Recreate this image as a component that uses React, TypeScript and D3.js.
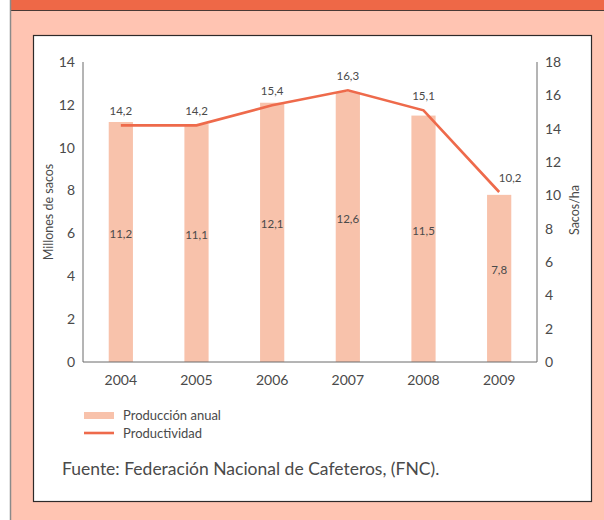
import React from "react";
import * as d3 from "d3";

const years = ["2004", "2005", "2006", "2007", "2008", "2009"];
const produccion = [11.2, 11.1, 12.1, 12.6, 11.5, 7.8];
const productividad = [14.2, 14.2, 15.4, 16.3, 15.1, 10.2];
const leftTicks = [0, 2, 4, 6, 8, 10, 12, 14];
const rightTicks = [0, 2, 4, 6, 8, 10, 12, 14, 16, 18];
const legendLabels = ["Producción anual", "Productividad"];
const sourceText = "Fuente: Federación Nacional de Cafeteros, (FNC).";
const leftTitle = "Millones de sacos";
const rightTitle = "Sacos/ha";

const W = 604;
const H = 520;
const FONT = "Lato, 'Open Sans', sans-serif";
const TEXT = "#4a4a4a";
const BAR = "#F8C2AB";
const LINE = "#EE6A4B";

const fmt = (v: number) => v.toFixed(1).replace(".", ",");

export default function App() {
  const plot = { left: 83, right: 537, top: 62, bottom: 362 };
  const x = d3.scaleBand<string>().domain(years).range([plot.left, plot.right]).paddingInner(0.68).paddingOuter(0.34);
  const yL = d3.scaleLinear().domain([0, 14]).range([plot.bottom, plot.top]);
  const yR = d3.scaleLinear().domain([0, 18]).range([plot.bottom, plot.top]);
  const cx = (d: string) => (x(d) as number) + x.bandwidth() / 2;
  const line = d3
    .line<number>()
    .x((_, i) => cx(years[i]))
    .y((d) => yR(d));

  return (
    <svg width={W} height={H} style={{ position: "absolute", left: 0, top: 0, display: "block" }} fontFamily={FONT}>
      <rect x={0} y={0} width={W} height={H} fill="#ffffff" />
      <rect x={10} y={0} width={W - 10} height={H} fill="#FFC4B2" />
      <rect x={10} y={0} width={W - 10} height={10} fill="#EE6847" />
      <line x1={10} x2={W} y1={10.5} y2={10.5} stroke="#4a3a36" strokeWidth={1} />
      <line x1={10.5} x2={10.5} y1={0} y2={H} stroke="#8a8a8a" strokeWidth={1.5} />
      <rect x={33.5} y={35.5} width={558} height={466} fill="#ffffff" stroke="#2e2a2a" strokeWidth={1.2} />

      {/* bars */}
      {produccion.map((v, i) => (
        <rect key={"b" + i} x={x(years[i])} y={yL(v)} width={x.bandwidth()} height={yL(0) - yL(v)} fill={BAR} />
      ))}
      {/* axes */}
      <line x1={plot.left} x2={plot.left} y1={plot.top} y2={plot.bottom} stroke="#6a6a6a" strokeWidth={1} />
      <line x1={plot.right} x2={plot.right} y1={plot.top} y2={plot.bottom} stroke="#6a6a6a" strokeWidth={1} />
      <line x1={plot.left} x2={plot.right} y1={plot.bottom} y2={plot.bottom} stroke="#6a6a6a" strokeWidth={1} />
      {leftTicks.map((t) => (
        <text key={"l" + t} x={75} y={yL(t)} dy="0.35em" textAnchor="end" fontSize={14} fill={TEXT}>
          {t}
        </text>
      ))}
      {rightTicks.map((t) => (
        <text key={"r" + t} x={545} y={yR(t)} dy="0.35em" textAnchor="start" fontSize={14} fill={TEXT}>
          {t}
        </text>
      ))}
      {years.map((yv) => (
        <text key={"x" + yv} x={cx(yv)} y={380} dy="0.35em" textAnchor="middle" fontSize={14} fill={TEXT}>
          {yv}
        </text>
      ))}
      <text transform={`translate(49,${(plot.top + plot.bottom) / 2}) rotate(-90)`} textAnchor="middle" dy="0.35em" fontSize={12.5} fill={TEXT}>
        {leftTitle}
      </text>
      <text transform={`translate(575,${(plot.top + plot.bottom) / 2 - 2}) rotate(-90)`} textAnchor="middle" dy="0.35em" fontSize={12.5} fill={TEXT}>
        {rightTitle}
      </text>

      {/* bar labels */}
      {produccion.map((v, i) => (
        <text key={"bl" + i} x={cx(years[i])} y={(yL(v) + yL(0)) / 2 - 8} dy="0.35em" textAnchor="middle" fontSize={11.5} fill={TEXT}>
          {fmt(v)}
        </text>
      ))}

      {/* line */}
      <path d={line(productividad) || ""} fill="none" stroke={LINE} strokeWidth={2.6} />
      {productividad.map((v, i) => (
        <text
          key={"ll" + i}
          x={cx(years[i]) + (i === productividad.length - 1 ? 11 : 0)}
          y={yR(v) - 14}
          dy="0.35em"
          textAnchor="middle"
          fontSize={11.5}
          fill={TEXT}
        >
          {fmt(v)}
        </text>
      ))}

      {/* legend */}
      <rect x={84} y={412} width={30} height={7} fill={BAR} />
      <text x={123} y={415.5} dy="0.35em" fontSize={13} fill={TEXT}>
        {legendLabels[0]}
      </text>
      <line x1={84} x2={114} y1={433} y2={433} stroke={LINE} strokeWidth={2.6} />
      <text x={123} y={433} dy="0.35em" fontSize={13} fill={TEXT}>
        {legendLabels[1]}
      </text>

      <text x={62} y={469} dy="0.35em" fontSize={17.5} fill={TEXT}>
        {sourceText}
      </text>
    </svg>
  );
}
